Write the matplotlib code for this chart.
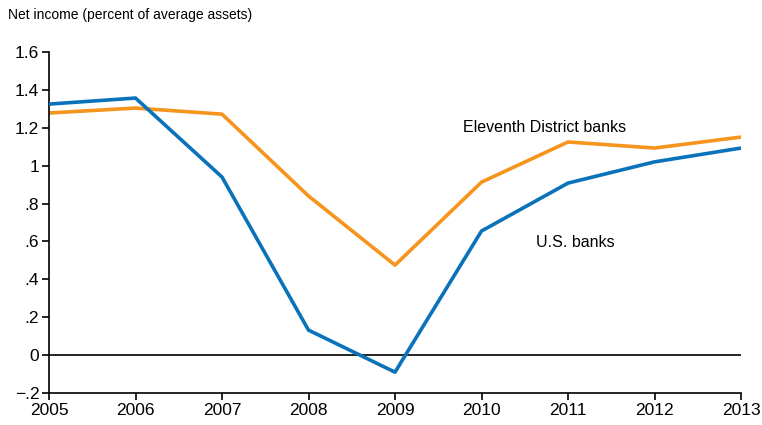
import matplotlib.pyplot as plt
from matplotlib.ticker import FixedLocator

years = [2005, 2006, 2007, 2008, 2009, 2010, 2011, 2012, 2013]
us_banks = [1.325, 1.357, 0.94, 0.132, -0.09, 0.655, 0.908, 1.02, 1.093]
eleventh_banks = [1.278, 1.304, 1.272, 0.84, 0.475, 0.913, 1.125, 1.093, 1.151]
y_ticks = [-0.2, 0, 0.2, 0.4, 0.6, 0.8, 1.0, 1.2, 1.4, 1.6]
y_labels = ["\u2212.2", "0", ".2", ".4", ".6", ".8", "1", "1.2", "1.4", "1.6"]

plt.rcParams['font.family'] = ['Liberation Sans', 'DejaVu Sans']

fig = plt.figure(figsize=(7.62, 4.25), dpi=100)
ax = fig.add_axes([49 / 762, 1 - 393 / 425, (741 - 49) / 762, (393 - 52) / 425])

ax.axhline(0, color="black", lw=1.2, zorder=1)
ax.plot(years, us_banks, color="#0a72ba", lw=2.6, zorder=3, solid_capstyle="butt")
ax.plot(years, eleventh_banks, color="#f7941d", lw=2.6, zorder=2, solid_capstyle="butt")

ax.set_xlim(2005, 2013)
ax.set_ylim(-0.2, 1.6)
ax.set_xticks(years)
ax.set_xticklabels([str(y) for y in years], fontsize=12.5)
ax.yaxis.set_major_locator(FixedLocator(y_ticks))
ax.set_yticklabels(y_labels, fontsize=12.5)

for side in ["top", "right"]:
    ax.spines[side].set_visible(False)
for side in ["left", "bottom"]:
    ax.spines[side].set_linewidth(1.2)
ax.tick_params(axis="both", direction="out", length=5, width=1.2, pad=2)

ax.text(2010.73, 1.204, "Eleventh District banks", fontsize=11.5, ha="center", va="center")
ax.text(2011.08, 0.597, "U.S. banks", fontsize=11.5, ha="center", va="center")

fig.text(8 / 762, 1 - 15 / 425, "Net income (percent of average assets)", fontsize=10,
         ha="left", va="center")

fig.savefig("out.png", dpi=100)
